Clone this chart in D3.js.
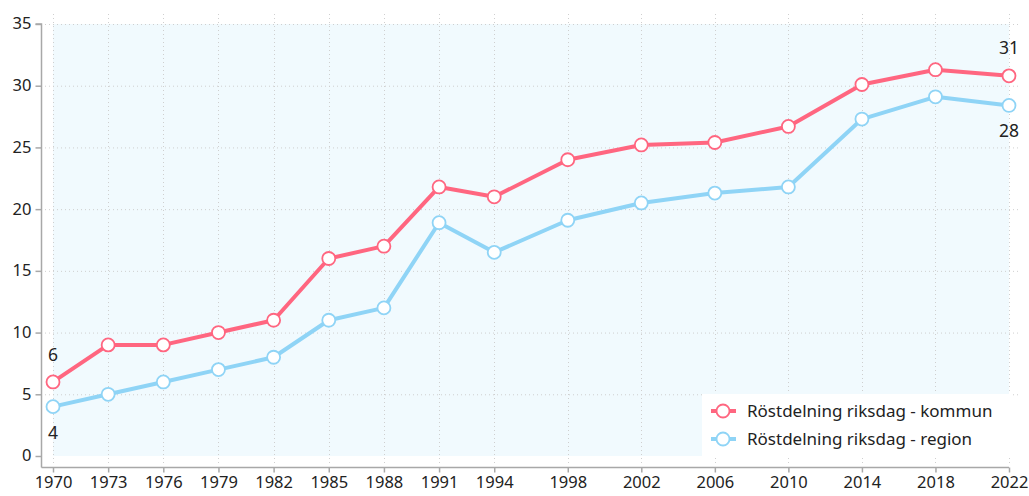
<!DOCTYPE html>
<html><head><meta charset="utf-8">
<script src="https://cdn.jsdelivr.net/npm/d3@7"></script>
<style>body{margin:0;background:#fff}svg{display:block}</style>
</head><body>
<svg id="c" width="1029" height="496"></svg>
<script>
const years = [1970,1973,1976,1979,1982,1985,1988,1991,1994,1998,2002,2006,2010,2014,2018,2022];
const kommun = [6,9,9,10,11,16,17,21.8,21,24,25.2,25.4,26.7,30.1,31.3,30.8];
const region = [4,5,6,7,8,11,12,18.9,16.5,19.1,20.5,21.3,21.8,27.3,29.1,28.4];
const seriesNames = ["Röstdelning riksdag - kommun","Röstdelning riksdag - region"];
const yTicks = [0,5,10,15,20,25,30,35];
const colors = ["#ff6680","#8fd4f6"];

const svg = d3.select("#c");
const font = "'Noto Sans', sans-serif";
const x = d3.scaleLinear().domain([1970,2022]).range([53,1009]);
const y = d3.scaleLinear().domain([0,35]).range([456,24]);

// background
svg.append("rect").attr("x",x(1970)).attr("y",y(35)).attr("width",x(2022)-x(1970)).attr("height",y(0)-y(35)).attr("fill","#f1fafe");

// grid
const g = svg.append("g");
g.selectAll(".hg").data(yTicks.slice(1)).enter().append("line")
 .attr("x1",45).attr("x2",1020).attr("y1",d=>y(d)+0.5).attr("y2",d=>y(d)+0.5)
 .attr("stroke","#cfcfcf").attr("stroke-dasharray","1,3");
g.selectAll(".vg").data(years).enter().append("line")
 .attr("x1",d=>Math.round(x(d))+0.5).attr("x2",d=>Math.round(x(d))+0.5).attr("y1",14).attr("y2",466)
 .attr("stroke","#cfcfcf").attr("stroke-dasharray","1,3");

// axes
const yAxis = svg.append("g").attr("transform","translate(41.5,0)")
 .call(d3.axisLeft(y).tickValues(yTicks).tickSize(6).tickPadding(4));
const xAxis = svg.append("g").attr("transform","translate(0,467.5)")
 .call(d3.axisBottom(x).tickValues(years).tickFormat(d3.format("d")).tickSize(5).tickPadding(4));
[yAxis,xAxis].forEach(a=>{
  a.select(".domain").attr("stroke","#a8a8a8").attr("stroke-width",1.5);
  a.selectAll(".tick line").attr("stroke","#a8a8a8").attr("stroke-width",1.5);
  a.selectAll("text").attr("fill","#222").style("font-family",font).style("font-size","16.5px");
});
yAxis.selectAll("text").attr("dy","0.3em");
yAxis.select(".domain").attr("d","M-6,"+y(35)+"H0V"+(467.5)+"");
xAxis.select(".domain").attr("d","M41.5,0H"+x(2022));

// lines
const line = d3.line().x((d,i)=>x(years[i])).y(d=>y(d));
[kommun,region].forEach((s,k)=>{
  svg.append("path").datum(s).attr("d",line).attr("fill","none")
   .attr("stroke",colors[k]).attr("stroke-width",4).attr("stroke-linejoin","round");
});
[kommun,region].forEach((s,k)=>{
  svg.selectAll(".pt"+k).data(s).enter().append("circle")
   .attr("cx",(d,i)=>x(years[i])).attr("cy",d=>y(d)).attr("r",6.5)
   .attr("fill","#fff").attr("stroke",colors[k]).attr("stroke-width",1.8);
});

// end labels
const lab = (xv,yv,t,anchor)=>svg.append("text").attr("x",xv).attr("y",yv).attr("text-anchor",anchor)
  .style("font-family",font).style("font-size","17.5px").attr("fill","#222").text(t);
lab(x(1970),y(kommun[0])-21,Math.round(kommun[0]),"middle");
lab(x(1970),y(region[0])+32,Math.round(region[0]),"middle");
lab(x(2022),y(kommun[15])-22,Math.round(kommun[15]),"middle");
lab(x(2022),y(region[15])+32,Math.round(region[15]),"middle");

// legend
const lg = svg.append("g");
lg.append("rect").attr("x",702).attr("y",394).attr("width",308).attr("height",62).attr("fill","#fff");
seriesNames.forEach((n,i)=>{
  const cy = 411 + i*28;
  lg.append("line").attr("x1",711).attr("x2",736).attr("y1",cy).attr("y2",cy).attr("stroke",colors[i]).attr("stroke-width",4);
  lg.append("circle").attr("cx",723).attr("cy",cy).attr("r",6.5).attr("fill","#fff").attr("stroke",colors[i]).attr("stroke-width",1.8);
  lg.append("text").attr("x",747).attr("y",cy+6).style("font-family",font).style("font-size","17px").attr("fill","#222").text(n);
});
</script>
</body></html>
